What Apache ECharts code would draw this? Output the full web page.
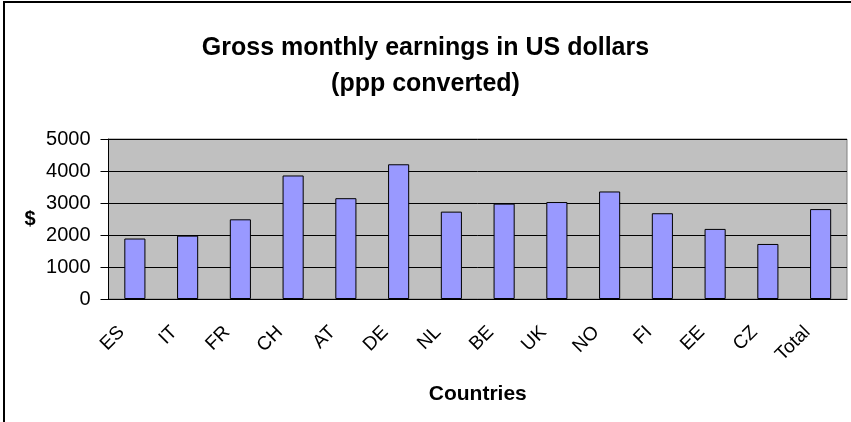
<!DOCTYPE html>
<html>
<head>
<meta charset="utf-8">
<script src="https://cdn.jsdelivr.net/npm/echarts@6/dist/echarts.min.js"></script>
<style>
  html, body { margin: 0; padding: 0; background: #fff; }
  #chart { width: 851px; height: 422px; }
</style>
</head>
<body>
<div id="chart"></div>
<script>
var countries = ['ES', 'IT', 'FR', 'CH', 'AT', 'DE', 'NL', 'BE', 'UK', 'NO', 'FI', 'EE', 'CZ', 'Total'];
var earnings = [1890, 1980, 2490, 3860, 3150, 4210, 2730, 2980, 3030, 3360, 2680, 2190, 1720, 2810];
var yTicks = [0, 1000, 2000, 3000, 4000, 5000];

var font = 'Liberation Sans, Arial, sans-serif';

var myChart = echarts.init(document.getElementById('chart'));

var option = {
    animation: false,
    backgroundColor: '#fff',
    title: {
        text: 'Gross monthly earnings in US dollars\n(ppp converted)',
        left: 'center',
        top: 25,
        textStyle: {
            fontFamily: font,
            fontSize: 25,
            fontWeight: 'bold',
            color: '#000',
            lineHeight: 36
        }
    },
    // outer frame, only left and top edges are visible in the picture
    graphic: [
        {
            type: 'rect',
            shape: { x: 4, y: 2, width: 900, height: 500 },
            style: { fill: 'none', stroke: '#000', lineWidth: 2 },
            silent: true
        }
    ],
    grid: {
        left: 108.5,
        right: 4,
        top: 139,
        bottom: 123,
        show: true,
        backgroundColor: '#C0C0C0',
        borderColor: '#808080',
        borderWidth: 1
    },
    xAxis: {
        type: 'category',
        data: countries,
        name: 'Countries',
        nameLocation: 'middle',
        nameGap: 85,
        nameTextStyle: {
            fontFamily: font,
            fontSize: 21,
            fontWeight: 'bold',
            color: '#000'
        },
        axisLine: { lineStyle: { color: '#000', width: 1 } },
        axisTick: { length: 6, lineStyle: { color: '#000' } },
        axisLabel: {
            rotate: 45,
            margin: 17,
            padding: [0, 19, 0, 0],
            fontFamily: font,
            fontSize: 19,
            color: '#000',
            interval: 0
        }
    },
    yAxis: {
        type: 'value',
        min: yTicks[0],
        max: yTicks[yTicks.length - 1],
        interval: 1000,
        name: '$',
        nameLocation: 'middle',
        nameRotate: 0,
        nameGap: 73,
        nameTextStyle: {
            fontFamily: font,
            fontSize: 20,
            fontWeight: 'bold',
            color: '#000',
            padding: [8, 0, 0, 0]
        },
        axisLine: { show: true, lineStyle: { color: '#000', width: 1 } },
        axisTick: { show: true, length: 8, inside: false, lineStyle: { color: '#000' } },
        axisLabel: {
            margin: 18,
            fontFamily: font,
            fontSize: 20,
            color: '#000',
            formatter: function (v) { return String(v); }
        },
        splitLine: { show: true, lineStyle: { color: '#000', width: 1 } }
    },
    series: [
        {
            name: 'Earnings',
            type: 'bar',
            data: earnings,
            barCategoryGap: '60%',
            itemStyle: {
                color: '#9999FF',
                borderColor: '#000',
                borderWidth: 1
            }
        }
    ]
};

myChart.setOption(option);
</script>
</body>
</html>
